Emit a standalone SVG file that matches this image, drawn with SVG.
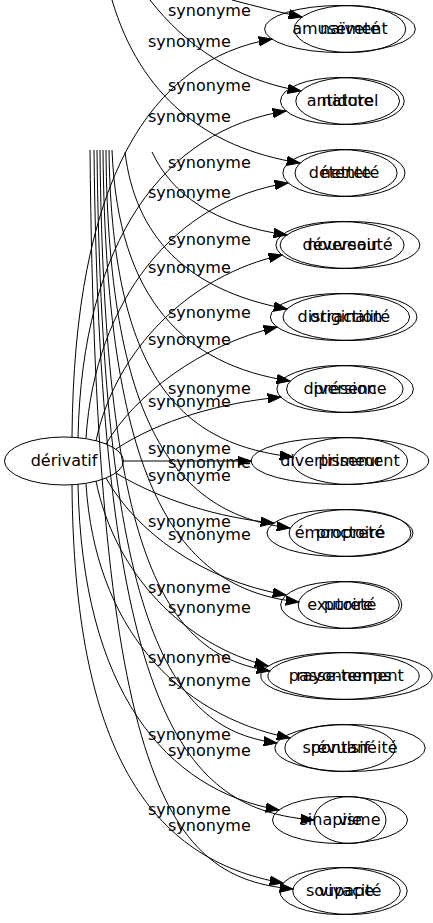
<svg xmlns="http://www.w3.org/2000/svg" width="433" height="923" viewBox="0 0 433 923">
<defs>
<marker id="ah" markerUnits="userSpaceOnUse" markerWidth="14" markerHeight="10" viewBox="0 0 14 10" refX="13.3" refY="5" orient="auto">
<path d="M0,0.3 L13.3,5 L0,9.7 z" fill="#000" stroke="#000" stroke-width="1"/>
</marker>
<style>
.e path{fill:none;stroke:#000;stroke-width:1;marker-end:url(#ah)}
.nd ellipse{fill:none;stroke:#000;stroke-width:1}
text{font-family:"DejaVu Sans","Liberation Sans",sans-serif;font-size:16px;fill:#000}
.nd text{text-anchor:middle}
</style>
</defs>
<rect width="433" height="923" fill="#fff"/>
<g id="connectors" class="e">
<path d="M72,437 C74,180 150,60 272,39"/>
<path d="M78,438 C82,240 165,130 286,111"/>
<path d="M86,438 C95,300 175,200 288,183"/>
<path d="M96,441 C115,350 190,275 282,255"/>
<path d="M106,444 C135,395 200,345 277,327"/>
<path d="M116,449 C160,420 220,403 281,397"/>
<path d="M124,461 L251,461"/>
<path d="M116,473 C160,500 220,518 274,523"/>
<path d="M106,478 C135,530 200,580 286,595"/>
<path d="M96,481 C115,575 185,645 268,666"/>
<path d="M86,484 C95,625 175,715 290,738"/>
<path d="M78,484 C82,690 165,790 279,810"/>
<path d="M72,485 C74,750 150,860 283,883"/>
<path d="M232,0 C255,6 278,12 302,17"/>
<path d="M150,0 C185,45 235,80 301,91"/>
<path d="M112,0 C140,95 205,148 300,163"/>
<path d="M152,152 C172,195 215,225 287,235"/>
<path d="M125,152 C135,235 185,290 287,309"/>
<path d="M112,150 C118,300 185,365 290,381"/>
<path d="M109,150 C112,390 190,445 293,457"/>
<path d="M106,150 C108,440 185,515 290,528"/>
<path d="M103,150 C106,500 185,590 299,602"/>
<path d="M100,150 C104,570 170,655 270,671"/>
<path d="M97,150 C102,640 175,730 277,743"/>
<path d="M94,150 C100,720 185,810 314,820"/>
<path d="M90,150 C96,790 170,878 293,889"/>
</g>
<g id="edge-labels">
<text x="148" y="47">synonyme</text>
<text x="148" y="122">synonyme</text>
<text x="148" y="198">synonyme</text>
<text x="148" y="273">synonyme</text>
<text x="148" y="345">synonyme</text>
<text x="148" y="407">synonyme</text>
<text x="148" y="454">synonyme</text>
<text x="148" y="481">synonyme</text>
<text x="148" y="527">synonyme</text>
<text x="148" y="593">synonyme</text>
<text x="148" y="663">synonyme</text>
<text x="148" y="740">synonyme</text>
<text x="148" y="815">synonyme</text>
<text x="168" y="16">synonyme</text>
<text x="168" y="91">synonyme</text>
<text x="168" y="168">synonyme</text>
<text x="168" y="245">synonyme</text>
<text x="168" y="318">synonyme</text>
<text x="168" y="394">synonyme</text>
<text x="168" y="468">synonyme</text>
<text x="168" y="540">synonyme</text>
<text x="168" y="613">synonyme</text>
<text x="168" y="686">synonyme</text>
<text x="168" y="756">synonyme</text>
<text x="168" y="831">synonyme</text>
</g>
<g id="n-derivatif" class="nd"><ellipse cx="64" cy="461" rx="59.5" ry="24"/><text x="64" y="466">dérivatif</text></g>
<g id="n-amusement" class="nd"><ellipse cx="340" cy="29" rx="75.4" ry="23.5"/><text x="340" y="34">amusement</text></g>
<g id="n-naivete" class="nd"><ellipse cx="350" cy="29" rx="55.7" ry="23.5"/><text x="350" y="34">naïveté</text></g>
<g id="n-antidote" class="nd"><ellipse cx="340" cy="101" rx="59.5" ry="23.5"/><text x="340" y="106">antidote</text></g>
<g id="n-naturel" class="nd"><ellipse cx="350" cy="101" rx="54.2" ry="23.5"/><text x="350" y="106">naturel</text></g>
<g id="n-detente" class="nd"><ellipse cx="340" cy="173" rx="57.1" ry="23.5"/><text x="340" y="178">détente</text></g>
<g id="n-nettete" class="nd"><ellipse cx="350" cy="173" rx="55" ry="23.5"/><text x="350" y="178">netteté</text></g>
<g id="n-deversoir" class="nd"><ellipse cx="340" cy="245" rx="64.1" ry="23.5"/><text x="340" y="250">déversoir</text></g>
<g id="n-nouveaute" class="nd"><ellipse cx="350" cy="245" rx="69.9" ry="23.5"/><text x="350" y="250">nouveauté</text></g>
<g id="n-distraction" class="nd"><ellipse cx="340" cy="317" rx="69.6" ry="23.5"/><text x="340" y="322">distraction</text></g>
<g id="n-originalite" class="nd"><ellipse cx="350" cy="317" rx="67" ry="23.5"/><text x="350" y="322">originalité</text></g>
<g id="n-diversion" class="nd"><ellipse cx="340" cy="389" rx="63.1" ry="23.5"/><text x="340" y="394">diversion</text></g>
<g id="n-presence" class="nd"><ellipse cx="350" cy="389" rx="63.4" ry="23.5"/><text x="350" y="394">présence</text></g>
<g id="n-divertissement" class="nd"><ellipse cx="340" cy="461" rx="88.7" ry="23.5"/><text x="340" y="466">divertissement</text></g>
<g id="n-primeur" class="nd"><ellipse cx="350" cy="461" rx="57.6" ry="23.5"/><text x="350" y="466">primeur</text></g>
<g id="n-emonctoire" class="nd"><ellipse cx="340" cy="533" rx="73" ry="23.5"/><text x="340" y="538">émonctoire</text></g>
<g id="n-proprete" class="nd"><ellipse cx="350" cy="533" rx="60.9" ry="23.5"/><text x="350" y="538">propreté</text></g>
<g id="n-exutoire" class="nd"><ellipse cx="340" cy="605" rx="59.3" ry="23.5"/><text x="340" y="610">exutoire</text></g>
<g id="n-purete" class="nd"><ellipse cx="350" cy="605" rx="51.8" ry="23.5"/><text x="350" y="610">pureté</text></g>
<g id="n-passe-temps" class="nd"><ellipse cx="340" cy="676" rx="79.2" ry="23.5"/><text x="340" y="681">passe-temps</text></g>
<g id="n-rayonnement" class="nd"><ellipse cx="350" cy="676" rx="82.1" ry="23.5"/><text x="350" y="681">rayonnement</text></g>
<g id="n-revulsif" class="nd"><ellipse cx="340" cy="748" rx="55.2" ry="23.5"/><text x="340" y="753">révulsif</text></g>
<g id="n-spontaneite" class="nd"><ellipse cx="350" cy="748" rx="75.2" ry="23.5"/><text x="350" y="753">spontanéité</text></g>
<g id="n-sinapisme" class="nd"><ellipse cx="340" cy="820" rx="67.5" ry="23.5"/><text x="340" y="825">sinapisme</text></g>
<g id="n-vie" class="nd"><ellipse cx="350" cy="820" rx="36" ry="23.5"/><text x="350" y="825">vie</text></g>
<g id="n-soupape" class="nd"><ellipse cx="340" cy="891" rx="60.3" ry="23.5"/><text x="340" y="896">soupape</text></g>
<g id="n-vivacite" class="nd"><ellipse cx="350" cy="891" rx="57.2" ry="23.5"/><text x="350" y="896">vivacité</text></g>
</svg>
